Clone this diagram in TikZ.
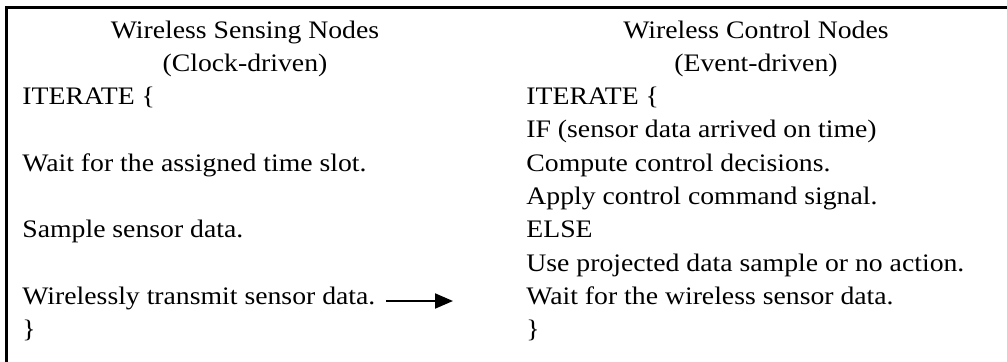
\documentclass[tikz,border=0pt]{standalone}
\usepackage{fontspec}
\setmainfont{Liberation Serif}[FakeStretch=1.1]
\usepackage{tikz}
\usetikzlibrary{arrows.meta}

\begin{document}
\begin{tikzpicture}[
    x=0.5pt, y=0.5pt,
    frame/.style={draw, line width=1.1pt},
    title/.style={anchor=base, inner sep=0pt, font=\fontsize{12.6}{15}\selectfont},
    codeline/.style={anchor=base west, inner sep=0pt, font=\fontsize{12.6}{15}\selectfont},
    arrow/.style={-{Triangle[length=9pt, width=7.5pt]}, line width=1pt}
]
    \useasboundingbox (0,0) rectangle (1007,361);

    % Frame (cut by the page on the right and bottom)
    \draw[frame] (6.5,-20) rectangle (1030,353.5);

    % Sensing side
    \node[title] (stitle) at (245, 323) {Wireless Sensing Nodes};
    \node[title] (ssub) at (245, 289.7) {(Clock-driven)};
    \node[codeline] (sit) at (22, 256.4) {ITERATE \{};
    \node[codeline] (swait) at (22, 189.8) {Wait for the assigned time slot.};
    \node[codeline] (ssample) at (22, 123.2) {Sample sensor data.};
    \node[codeline] (ssend) at (22, 56.6) {Wirelessly transmit sensor data.};
    \node[codeline] (send) at (22, 23.3) {\}};

    % Control side
    \node[title] (ctitle) at (756, 323) {Wireless Control Nodes};
    \node[title] (csub) at (756, 289.7) {(Event-driven)};
    \node[codeline] (cit) at (526, 256.4) {ITERATE \{};
    \node[codeline] (cif) at (526, 223.1) {IF (sensor data arrived on time)};
    \node[codeline] (ccomp) at (526, 189.8) {Compute control decisions.};
    \node[codeline] (capply) at (526, 156.5) {Apply control command signal.};
    \node[codeline] (celse) at (526, 123.2) {ELSE};
    \node[codeline] (cuse) at (526, 89.9) {Use projected data sample or no action.};
    \node[codeline] (cwait) at (526, 56.6) {Wait for the wireless sensor data.};
    \node[codeline] (cend) at (526, 23.3) {\}};

    % Transmission arrow
    \coordinate (txfrom) at (386, 60);
    \coordinate (txto) at (453, 60);
    \draw[arrow] (txfrom) -- (txto);
\end{tikzpicture}
\end{document}
